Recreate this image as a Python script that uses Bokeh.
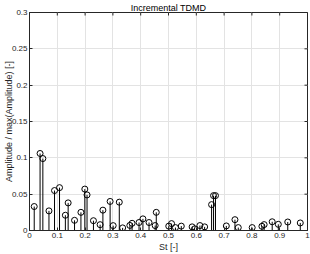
import math
from bokeh.plotting import figure
from bokeh.models import FixedTicker, Range1d
from bokeh.embed import file_html
from bokeh.resources import INLINE

st = [0.017, 0.038, 0.048, 0.070, 0.090, 0.108, 0.129, 0.139, 0.162, 0.185,
      0.199, 0.207, 0.230, 0.254, 0.264, 0.290, 0.301, 0.323, 0.335, 0.361,
      0.369, 0.394, 0.408, 0.430, 0.452, 0.456, 0.501, 0.511, 0.525, 0.546,
      0.585, 0.594, 0.613, 0.630, 0.655, 0.662, 0.669, 0.708, 0.739, 0.751,
      0.801, 0.836, 0.844, 0.873, 0.895, 0.929, 0.974]
amp = [0.033, 0.106, 0.099, 0.027, 0.055, 0.059, 0.021, 0.038, 0.014, 0.025,
       0.057, 0.049, 0.0135, 0.008, 0.028, 0.040, 0.0067, 0.039, 0.0036, 0.007,
       0.0099, 0.011, 0.016, 0.011, 0.0068, 0.025, 0.006, 0.0095, 0.004, 0.006,
       0.005, 0.0023, 0.0068, 0.005, 0.0356, 0.048, 0.048, 0.0063, 0.0149, 0.004,
       0.004, 0.0058, 0.0081, 0.012, 0.0085, 0.0117, 0.0104]

x_ticks = [0, 0.1, 0.2, 0.3, 0.4, 0.5, 0.6, 0.7, 0.8, 0.9, 1]
x_tick_labels = ["0", "0.1", "0.2", "0.3", "0.4", "0.5", "0.6", "0.7", "0.8", "0.9", "1"]
y_ticks = [0, 0.05, 0.1, 0.15, 0.2, 0.25, 0.3]
y_tick_labels = ["0", "0.05", "0.1", "0.15", "0.2", "0.25", "0.3"]
x_min, x_max = 0, 1
y_min, y_max = 0, 0.3

FONT = "Liberation Sans"
AX = "#262626"

p = figure(width=310, height=254, output_backend="svg", toolbar_location=None,
           x_range=Range1d(x_min, x_max), y_range=Range1d(y_min, y_max),
           title="Incremental TDMD",
           min_border_left=0, min_border_right=3, min_border_top=0, min_border_bottom=0)
p.title.align = "center"
p.title.text_font = FONT
p.title.text_font_size = "9px"
p.title.text_font_style = "normal"
p.title.text_color = "#000000"
p.title.text_line_height = 0.5
p.title.standoff = 0
p.title.offset = 0

p.outline_line_color = AX
p.outline_line_width = 1
p.background_fill_color = "white"
p.border_fill_color = "white"

for ax, ticks, labels in ((p.xaxis[0], x_ticks, x_tick_labels), (p.yaxis[0], y_ticks, y_tick_labels)):
    ax.ticker = FixedTicker(ticks=ticks)
    ax.major_label_overrides = {t: l for t, l in zip(ticks, labels)}
    ax.minor_tick_line_color = None
    ax.major_tick_in = 3
    ax.major_tick_out = 0
    ax.major_tick_line_color = AX
    ax.axis_line_color = AX
    ax.major_label_text_font = FONT
    ax.major_label_text_font_size = "8px"
    ax.major_label_text_color = AX
    ax.axis_label_text_font = FONT
    ax.axis_label_text_font_size = "9px"
    ax.axis_label_text_font_style = "normal"
    ax.axis_label_text_color = AX

p.xaxis.major_label_standoff = 2
p.xaxis.axis_label_standoff = 1
p.yaxis.major_label_standoff = 2
p.yaxis.axis_label_standoff = -5

p.xaxis.axis_label = "St [-]"
p.yaxis.axis_label = "Amplitude / max(Amplitude) [-]"

p.xgrid.ticker = FixedTicker(ticks=x_ticks)
p.ygrid.ticker = FixedTicker(ticks=y_ticks)
p.grid.grid_line_color = "#e3e3e3"
p.grid.grid_line_width = 1

# inward ticks on the top and right box edges (half of each dash is clipped by the frame)
p.scatter(x=x_ticks, y=[y_max] * len(x_ticks), marker="dash", size=6, angle=math.pi / 2,
          line_color=AX, line_width=1)
p.scatter(x=[x_max] * len(y_ticks), y=y_ticks, marker="dash", size=6,
          line_color=AX, line_width=1)

zeros = [0] * len(st)
p.segment(x0=st, y0=zeros, x1=st, y1=amp, line_color="#000000", line_width=1)
p.scatter(x=st, y=amp, marker="circle", size=6, fill_color=None,
          line_color="#000000", line_width=1)

open("out.html", "w").write(file_html(p, INLINE))
